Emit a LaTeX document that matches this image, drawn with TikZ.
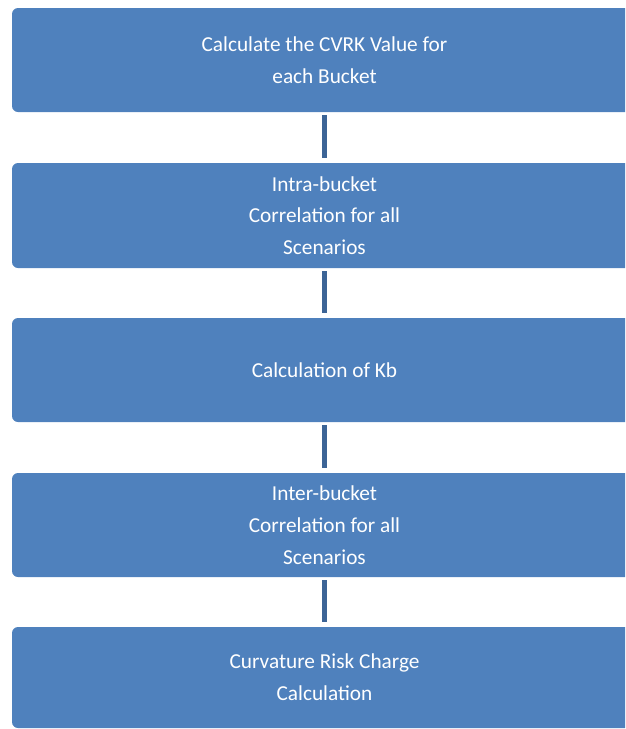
\documentclass[tikz,border=0pt]{standalone}
\usepackage{fontspec}
\setmainfont{Carlito}
\definecolor{boxblue}{HTML}{4F81BD}
\definecolor{linkblue}{HTML}{3C6496}
\begin{document}
\begin{tikzpicture}[x=1pt,y=-1pt,
  flowbox/.style={fill=boxblue, draw=none, rounded corners=6pt, minimum width=625pt,
    inner sep=0pt, text=white, align=center,
    font=\fontsize{21.3}{31.8}\selectfont},
  link/.style={draw=linkblue, line width=5pt, shorten <=3pt, shorten >=5pt}]
\useasboundingbox (0,0) rectangle (625,729);
\clip (0,0) rectangle (625,729);
\node[flowbox, minimum height=104pt] (b1) at (324.5,60) {Calculate the CVRK Value for\\each Bucket};
\node[flowbox, minimum height=105pt] (b2) at (324.5,215.5) {Intra-bucket\\Correlation for all\\Scenarios};
\node[flowbox, minimum height=104pt] (b3) at (324.5,370) {Calculation of Kb};
\node[flowbox, minimum height=104pt] (b4) at (324.5,525) {Inter-bucket\\Correlation for all\\Scenarios};
\node[flowbox, minimum height=101pt] (b5) at (324.5,677.5) {Curvature Risk Charge\\Calculation};
\draw[link] (b1.south) -- (b2.north);
\draw[link] (b2.south) -- (b3.north);
\draw[link] (b3.south) -- (b4.north);
\draw[link] (b4.south) -- (b5.north);
\end{tikzpicture}
\end{document}
